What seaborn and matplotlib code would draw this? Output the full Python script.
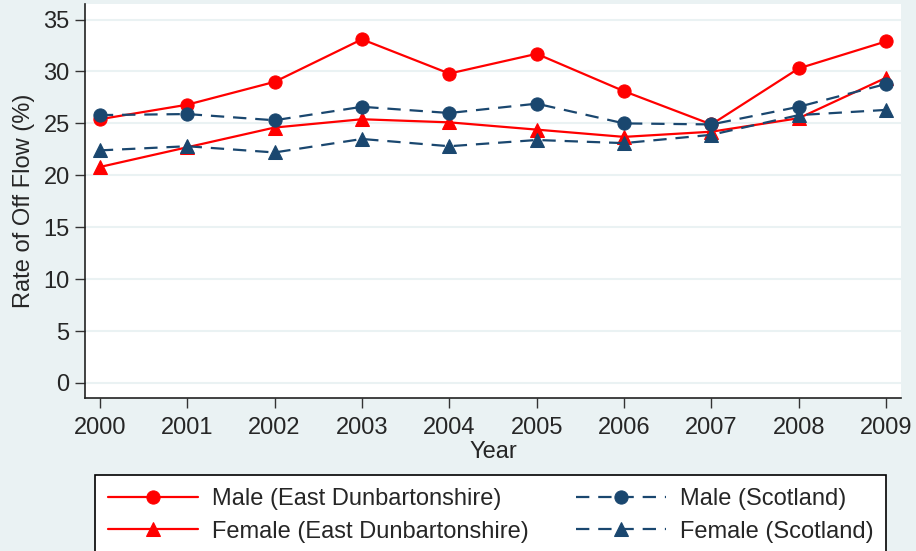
import matplotlib
matplotlib.use('Agg')
import matplotlib.pyplot as plt
import seaborn as sns
import pandas as pd

years = [2000, 2001, 2002, 2003, 2004, 2005, 2006, 2007, 2008, 2009]
male_ed = [25.4, 26.8, 29.0, 33.1, 29.8, 31.7, 28.1, 24.9, 30.3, 32.9]
female_ed = [20.8, 22.7, 24.6, 25.4, 25.1, 24.4, 23.7, 24.2, 25.5, 29.4]
male_sc = [25.8, 25.9, 25.3, 26.6, 26.0, 26.9, 25.0, 24.9, 26.6, 28.8]
female_sc = [22.4, 22.8, 22.2, 23.5, 22.8, 23.4, 23.1, 23.9, 25.8, 26.3]

labels = ['Male (East Dunbartonshire)', 'Female (East Dunbartonshire)',
          'Male (Scotland)', 'Female (Scotland)']

sns.set_style('white')
plt.rcParams['font.family'] = ['Liberation Sans', 'DejaVu Sans']

bg = '#EAF2F3'
red = '#FF0000'
navy = '#1A476F'

fig = plt.figure(figsize=(9.16, 5.51), dpi=100, facecolor=bg)
ax = fig.add_axes([85 / 916, 1 - 398 / 551, 816 / 916, 394 / 551])
ax.set_facecolor('white')

series = [
    (male_ed, red, 'o', '-'),
    (female_ed, red, '^', '-'),
    (male_sc, navy, 'o', (0, (6, 4))),
    (female_sc, navy, '^', (0, (6, 4))),
]
handles = []
for (vals, col, mk, ls), lab in zip(series, labels):
    df = pd.DataFrame({'Year': years, 'Rate': vals})
    sns.lineplot(data=df, x='Year', y='Rate', ax=ax, color=col, marker=mk,
                 markersize=9.5, markeredgecolor=col, linewidth=1.6,
                 linestyle=ls, label=lab, legend=False)
    handles.append(ax.lines[-1])

ax.set_xlim(1999.83, 2009.17)
ax.set_ylim(-1.45, 36.5)
ax.set_xticks(years)
ax.set_yticks(range(0, 36, 5))
ax.tick_params(axis='both', labelsize=17, length=7, width=1, color='#333333',
               direction='out', bottom=True, left=True)
ax.tick_params(axis='x', pad=7)
ax.tick_params(axis='y', pad=4)
ax.yaxis.grid(True, color=bg, linewidth=1.5)
ax.set_axisbelow(True)
for s in ['top', 'right']:
    ax.spines[s].set_visible(False)
for s in ['left', 'bottom']:
    ax.spines[s].set_color('#222222')
    ax.spines[s].set_linewidth(1.2)

ax.set_xlabel('Year', fontsize=17, labelpad=1)
ax.set_ylabel('Rate of Off Flow (%)', fontsize=17, labelpad=6)

leg = fig.legend(handles=handles, labels=labels, ncol=2, loc='upper left',
                 bbox_to_anchor=(95 / 916, 1 - 475 / 551), borderaxespad=0,
                 fontsize=17, frameon=True, fancybox=False, framealpha=1,
                 edgecolor='black', handlelength=3.8, handletextpad=0.6,
                 columnspacing=2.0, labelspacing=0.45, borderpad=0.55)
leg.get_frame().set_linewidth(1.2)

fig.savefig('out.png', dpi=100, facecolor=bg)
